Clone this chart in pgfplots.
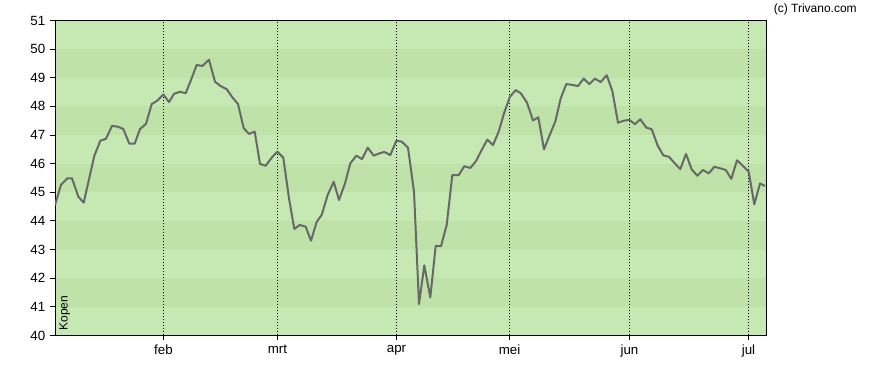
\documentclass[border=0pt]{standalone}
\usepackage{fontspec}
\setmainfont{Liberation Sans}
\usepackage{pgfplots}
\pgfplotsset{compat=1.18}
\definecolor{bandlight}{RGB}{198,233,179}
\definecolor{banddark}{RGB}{191,226,169}
\definecolor{linegray}{RGB}{104,104,104}
\begin{document}
\begin{tikzpicture}[x=0.75pt,y=0.75pt]
\begin{axis}[
  set layers,
  scale only axis, width=533.25pt, height=236.25pt,
  xmin=55, xmax=766, ymin=40, ymax=51,
  axis background/.style={fill=bandlight},
  xtick={163.5,277.5,396.5,509.5,629.5,748.5},
  xticklabels={feb,mrt,apr,mei,jun,jul},
  ytick={40,41,...,51},
  tick align=outside,
  major tick length=3.75pt,
  xtick pos=bottom, ytick pos=left,
  tick style={black, line width=0.75pt},
  axis line style={black, line width=0.75pt},
  xmajorgrids,
  major x grid style={black, line width=0.75pt, dash pattern=on 0.75pt off 1.5pt},
  ticklabel style={font=\fontsize{10}{12}\selectfont, text=black},
  /pgf/number format/assume math mode=true,
  clip=true,
]
\addplot[fill=banddark, draw=none, on layer=axis background] coordinates {(55,49) (766,49) (766,50) (55,50)} -- cycle;
\addplot[fill=banddark, draw=none, on layer=axis background] coordinates {(55,47) (766,47) (766,48) (55,48)} -- cycle;
\addplot[fill=banddark, draw=none, on layer=axis background] coordinates {(55,45) (766,45) (766,46) (55,46)} -- cycle;
\addplot[fill=banddark, draw=none, on layer=axis background] coordinates {(55,43) (766,43) (766,44) (55,44)} -- cycle;
\addplot[fill=banddark, draw=none, on layer=axis background] coordinates {(55,41) (766,41) (766,42) (55,42)} -- cycle;
\addplot[linegray, line width=1.5pt, line join=round] coordinates {
(55,44.55) (61,45.26) (67.3,45.49) (72,45.49) (78.3,44.85) (83.7,44.64)
(94.3,46.27) (100.3,46.80) (106,46.87) (112,47.32) (118,47.29) (123.3,47.21)
(129.3,46.70) (134.7,46.70) (140,47.21) (146,47.39) (151.7,48.08) (157.3,48.20)
(163.3,48.42) (169,48.15) (174,48.44) (180,48.51) (185.7,48.46) (191.2,48.94)
(196.7,49.45) (202.3,49.41) (209,49.63) (215,48.86) (220.7,48.71) (226.7,48.60)
(232.3,48.32) (238,48.08) (243.7,47.24) (249,47.04) (254.7,47.12) (260,45.99)
(265.7,45.93) (271.7,46.21) (277.3,46.42) (283.3,46.21) (289,44.79) (294.3,43.72)
(299.7,43.86) (305.7,43.80) (311,43.31) (316.7,43.97) (321.7,44.21) (327.7,44.91)
(333.7,45.37) (339,44.73) (345,45.31) (350.3,46.01) (356.3,46.28) (362,46.16)
(367.7,46.56) (373.7,46.28) (379.3,46.36) (384.3,46.41) (390.3,46.30) (396.3,46.80)
(401.7,46.77) (408,46.56) (414,45.02) (419,41.10) (424.3,42.45) (430.3,41.33)
(435.7,43.13) (441,43.12) (446.7,43.86) (452.3,45.60) (458.7,45.60) (464.3,45.91)
(470.3,45.85) (476,46.09) (481.7,46.48) (487.3,46.84) (493,46.65) (498.7,47.12)
(504,47.76) (510,48.34) (515.7,48.57) (520.7,48.46) (527,48.13) (533,47.51)
(538.3,47.62) (544,46.50) (549.3,46.97) (555.3,47.47) (560.7,48.28) (566.3,48.78)
(572.3,48.75) (578,48.71) (583.7,48.97) (589.3,48.78) (595,48.97) (600.7,48.85)
(606.7,49.09) (612.3,48.54) (618,47.43) (623.7,47.50) (629.3,47.53) (635,47.38)
(640.3,47.55) (646.3,47.26) (651.7,47.20) (657.7,46.63) (663.3,46.29) (669,46.24)
(674.3,46.03) (680.3,45.81) (686,46.34) (691.7,45.80) (697.3,45.58) (703,45.78)
(708.7,45.66) (714.3,45.89) (720,45.84) (725.7,45.78) (731.3,45.47) (737,46.12)
(742.7,45.93) (748.7,45.72) (754.3,44.58) (760,45.31) (765,45.22)
};
\node[rotate=90, anchor=north west, inner sep=0pt, font=\fontsize{9}{11}\selectfont]
  at (axis cs:59,40.16) {Kopen};
\coordinate (O) at (axis cs:55,40);
\end{axis}
\node[anchor=north east, inner sep=0pt, font=\fontsize{9}{11}\selectfont] at ([shift={(802,331.5)}]O) {(c) Trivano.com};
\pgfresetboundingbox
\path[use as bounding box] ([shift={(-55,-34.5)}]O) rectangle ([shift={(833,335.5)}]O);
\end{tikzpicture}
\end{document}
